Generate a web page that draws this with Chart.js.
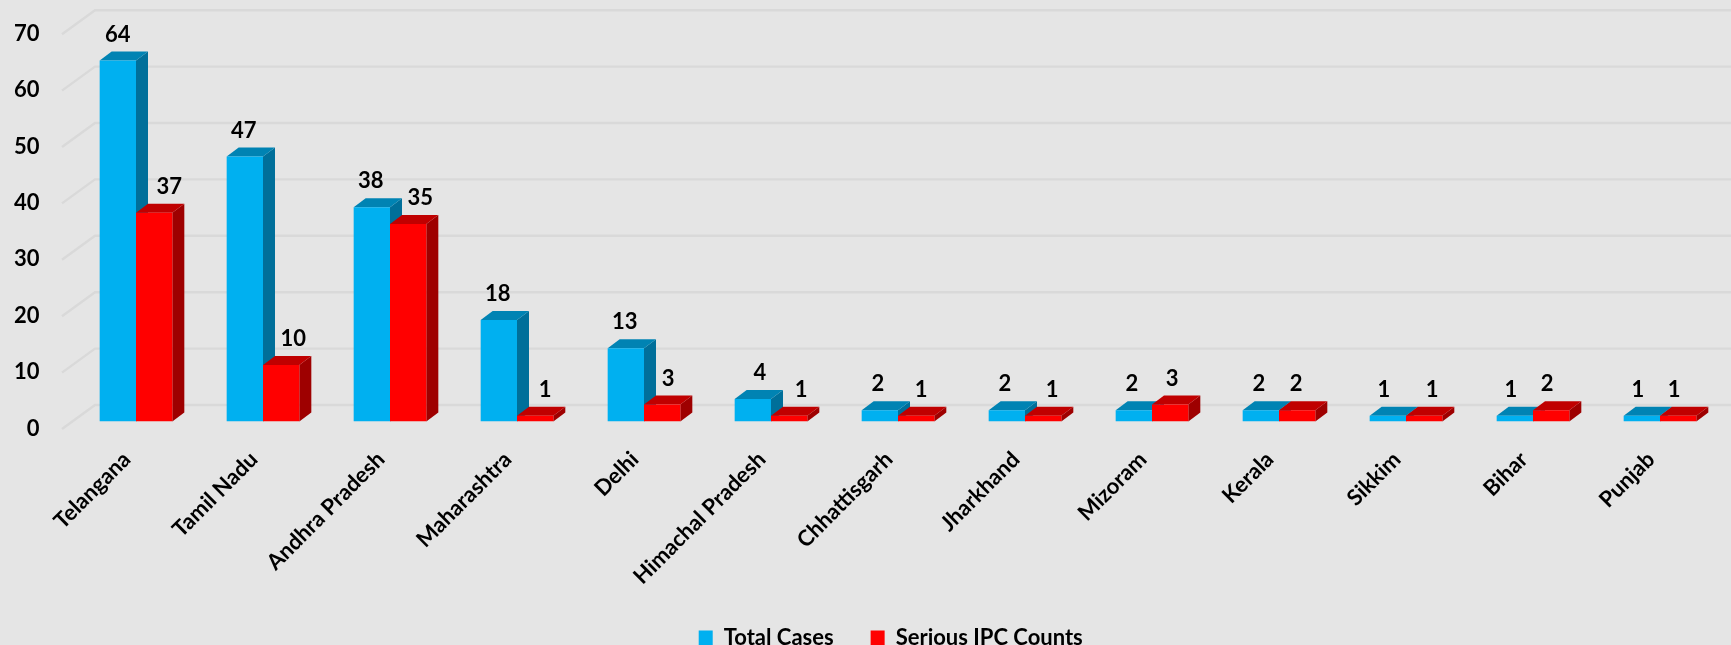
<!DOCTYPE html>
<html>
<head>
<meta charset="utf-8">
<title>Cases by state</title>
<script src="https://cdn.jsdelivr.net/npm/chart.js@4"></script>
<style>
    html, body { margin: 0; padding: 0; background: #e5e5e5; overflow: hidden; }
    #wrap { width: 1731px; height: 645px; }
</style>
</head>
<body>
<div id="wrap"><canvas id="myChart"></canvas></div>
<script>
const states = ["Telangana", "Tamil Nadu", "Andhra Pradesh", "Maharashtra", "Delhi", "Himachal Pradesh", "Chhattisgarh", "Jharkhand", "Mizoram", "Kerala", "Sikkim", "Bihar", "Punjab"];
const totalCases = [64, 47, 38, 18, 13, 4, 2, 2, 2, 2, 1, 1, 1];
const seriousCounts = [37, 10, 35, 1, 3, 1, 1, 1, 3, 2, 1, 2, 1];
const yTicks = [0, 10, 20, 30, 40, 50, 60, 70];

// labels were nudged by hand in the original, px left/right of the bar centre
const totalLabelShift = [0, -1, -1, -1, -1, 7, -2, -2, -2, -2, -4, -4, -4];
const seriousLabelShift = [15, 12, 12, 10, 6, 12, 5, 9, 2, -1, 8, -4, -4];

const FONT = "Lato, sans-serif";
const depthX = 12, depthY = 9;

function face(ctx, color, points) {
    ctx.fillStyle = color;
    ctx.beginPath();
    points.forEach((p, i) => i ? ctx.lineTo(p[0], p[1]) : ctx.moveTo(p[0], p[1]));
    ctx.closePath();
    ctx.fill();
}

// side and top faces of a bar, from the position chart.js gave it
function drawDepth(ctx, bar, sideColor, topColor) {
    const left = bar.x - bar.width / 2, right = bar.x + bar.width / 2;
    face(ctx, sideColor, [[right, bar.y], [right + depthX, bar.y - depthY], [right + depthX, bar.base - depthY], [right, bar.base]]);
    face(ctx, topColor, [[left, bar.y], [left + depthX, bar.y - depthY], [right + depthX, bar.y - depthY], [right, bar.y]]);
}

const box3d = {
    id: "box3d",
    // legend sits right of the page centre in the original
    afterLayout(chart) {
        chart.legend.left += 29;
        chart.legend.right += 29;
    },
    beforeDatasetsDraw(chart) {
        const ctx = chart.ctx;
        const y = chart.scales.y;
        // wall and floor grid lines
        ctx.save();
        ctx.strokeStyle = "#d9d9d9";
        ctx.lineWidth = 2.4;
        yTicks.forEach(v => {
            const py = y.getPixelForValue(v);
            ctx.beginPath();
            ctx.moveTo(62, py + 7.5);
            ctx.lineTo(95, py - 16.5);
            ctx.lineTo(chart.width, py - 16.5);
            ctx.stroke();
        });
        const blue = chart.getDatasetMeta(0).data;
        const red = chart.getDatasetMeta(1).data;
        blue.forEach((bar, i) => {
            drawDepth(ctx, bar, "#006f9a", "#0083b3");
            drawDepth(ctx, red[i], "#9e0000", "#c00000");
        });
        ctx.restore();
    },
    afterDatasetsDraw(chart) {
        const ctx = chart.ctx;
        ctx.save();
        ctx.fillStyle = "#000";
        ctx.font = "bold 22px " + FONT;
        ctx.textAlign = "center";
        ctx.textBaseline = "middle";
        [totalLabelShift, seriousLabelShift].forEach((shift, d) => {
            chart.getDatasetMeta(d).data.forEach((bar, i) => {
                const value = chart.data.datasets[d].data[i];
                ctx.fillText(value, bar.x + shift[i], bar.y - 26);
            });
        });
        ctx.restore();
    }
};

new Chart(document.getElementById("myChart"), {
    type: "bar",
    data: {
        labels: states,
        datasets: [
            { label: "Total Cases", data: totalCases, backgroundColor: "#00b0f0" },
            { label: "Serious IPC Counts", data: seriousCounts, backgroundColor: "#ff0000" }
        ]
    },
    plugins: [box3d],
    options: {
        responsive: true,
        maintainAspectRatio: false,
        animation: false,
        layout: { autoPadding: false, padding: { left: 0, right: 7.5, top: 26.7, bottom: -14 } },
        datasets: { bar: { categoryPercentage: 0.572, barPercentage: 1 } },
        plugins: {
            tooltip: { enabled: false },
            legend: {
                position: "bottom",
                labels: {
                    color: "#000",
                    font: { family: FONT, size: 22, weight: "bold" },
                    boxWidth: 14,
                    boxHeight: 15,
                    padding: 37
                }
            }
        },
        scales: {
            x: {
                grid: { display: false },
                border: { display: false },
                afterFit: s => { s.height = 168.5; },
                ticks: {
                    color: "#000",
                    font: { family: FONT, size: 22, weight: "bold" },
                    minRotation: 45,
                    maxRotation: 45,
                    padding: 17,
                    labelOffset: -9,
                    autoSkip: false
                }
            },
            y: {
                min: 0,
                max: 70,
                grid: { display: false },
                border: { display: false },
                // the tick padding would otherwise push the plot top down
                afterFit: s => { s.width = 72.5; s.paddingTop = 0; },
                afterBuildTicks: s => { s.ticks = yTicks.map(v => ({ value: v })); },
                ticks: {
                    color: "#000",
                    font: { family: FONT, size: 22, weight: "bold" },
                    padding: 25,
                    labelOffset: 7
                }
            }
        }
    }
});
</script>
</body>
</html>
